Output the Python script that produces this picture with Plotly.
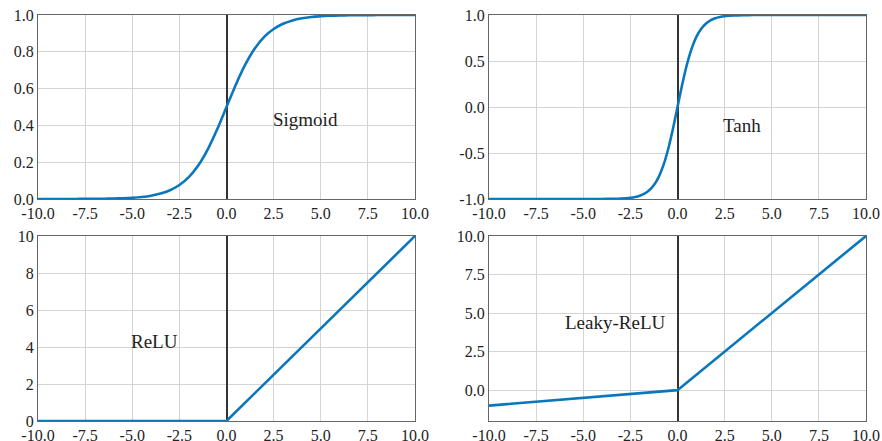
import plotly.graph_objects as go

# ---- data ----
sig_x = [-10, -9.5, -9, -8.5, -8, -7.5, -7, -6.5, -6, -5.5, -5, -4.5, -4, -3.5, -3, -2.5, -2, -1.5, -1, -0.5,
         0, 0.5, 1, 1.5, 2, 2.5, 3, 3.5, 4, 4.5, 5, 5.5, 6, 6.5, 7, 7.5, 8, 8.5, 9, 9.5, 10]
sig_y = [0.0000, 0.0001, 0.0001, 0.0002, 0.0003, 0.0006, 0.0009, 0.0015, 0.0025, 0.0041, 0.0067, 0.0110,
         0.0180, 0.0293, 0.0474, 0.0759, 0.1192, 0.1824, 0.2689, 0.3775, 0.5000, 0.6225, 0.7311, 0.8176,
         0.8808, 0.9241, 0.9526, 0.9707, 0.9820, 0.9890, 0.9933, 0.9959, 0.9975, 0.9985, 0.9991, 0.9994,
         0.9997, 0.9998, 0.9999, 0.9999, 1.0000]

tanh_x = [-10, -8, -6, -5, -4, -3.5, -3, -2.5, -2.25, -2, -1.75, -1.5, -1.25, -1, -0.75, -0.5, -0.25,
          0, 0.25, 0.5, 0.75, 1, 1.25, 1.5, 1.75, 2, 2.25, 2.5, 3, 3.5, 4, 5, 6, 8, 10]
tanh_y = [-1.0, -1.0, -1.0, -0.9999, -0.9993, -0.9982, -0.9951, -0.9866, -0.9780, -0.9640, -0.9414,
          -0.9051, -0.8483, -0.7616, -0.6351, -0.4621, -0.2449, 0.0, 0.2449, 0.4621, 0.6351, 0.7616,
          0.8483, 0.9051, 0.9414, 0.9640, 0.9780, 0.9866, 0.9951, 0.9982, 0.9993, 0.9999, 1.0, 1.0, 1.0]

relu_x = [-10, 0, 10]
relu_y = [0, 0, 10]

leaky_x = [-10, 0, 10]
leaky_y = [-1, 0, 10]

x_ticks = [-10, -7.5, -5, -2.5, 0, 2.5, 5, 7.5, 10]
x_tick_text = ["-10.0", "-7.5", "-5.0", "-2.5", "0.0", "2.5", "5.0", "7.5", "10.0"]
sig_ticks = [0, 0.2, 0.4, 0.6, 0.8, 1.0]
sig_tick_text = ["0.0", "0.2", "0.4", "0.6", "0.8", "1.0"]
tanh_ticks = [-1, -0.5, 0, 0.5, 1]
tanh_tick_text = ["-1.0", "-0.5", "0.0", "0.5", "1.0"]
relu_ticks = [0, 2, 4, 6, 8, 10]
relu_tick_text = ["0", "2", "4", "6", "8", "10"]
leaky_ticks = [0, 2.5, 5, 7.5, 10]
leaky_tick_text = ["0.0", "2.5", "5.0", "7.5", "10.0"]

labels = ["Sigmoid", "Tanh", "ReLU", "Leaky-ReLU"]
label_pos = [(4.2, 0.43), (3.4, -0.2), (-3.8, 4.3), (-3.3, 4.4)]

LINE = "#0a77bd"
FONT = "Liberation Serif"

fig = go.Figure()
series = [(sig_x, sig_y, "spline"), (tanh_x, tanh_y, "spline"),
          (relu_x, relu_y, "linear"), (leaky_x, leaky_y, "linear")]
for i, (xs, ys, shape) in enumerate(series):
    sfx = "" if i == 0 else str(i + 1)
    fig.add_trace(go.Scatter(x=xs, y=ys, mode="lines", xaxis="x" + sfx, yaxis="y" + sfx,
                             line=dict(color=LINE, width=2.6, shape=shape, smoothing=0.6),
                             showlegend=False, hoverinfo="skip"))
    fig.add_annotation(x=label_pos[i][0], y=label_pos[i][1], xref="x" + sfx, yref="y" + sfx,
                       text=labels[i], showarrow=False,
                       font=dict(family=FONT, size=19, color="#222"))

W, H = 882, 441
xdom = [(38 / W, 415 / W), (489 / W, 866 / W)]
ydom = [((H - 199) / H, (H - 15) / H), ((H - 421) / H, (H - 236) / H)]
yspecs = [([0, 1], sig_ticks, sig_tick_text), ([-1, 1], tanh_ticks, tanh_tick_text),
          ([0, 10], relu_ticks, relu_tick_text), ([-2, 10], leaky_ticks, leaky_tick_text)]

common = dict(showline=True, mirror=True, linecolor="#666", linewidth=1.2,
              showgrid=True, gridcolor="#d4d4d4", gridwidth=1, ticks="", automargin=False,
              tickfont=dict(family=FONT, size=16, color="#222"), fixedrange=True)

layout = {}
for i in range(4):
    sfx = "" if i == 0 else str(i + 1)
    col = i % 2
    row = i // 2
    layout["xaxis" + sfx] = dict(common, domain=list(xdom[col]), range=[-10, 10], anchor="y" + sfx,
                                 tickvals=x_ticks, ticktext=x_tick_text, ticklabelstandoff=0,
                                 zeroline=True, zerolinecolor="#333", zerolinewidth=1.5)
    r, tv, tt = yspecs[i]
    layout["yaxis" + sfx] = dict(common, domain=list(ydom[row]), range=r, anchor="x" + sfx,
                                 tickvals=tv, ticktext=tt, zeroline=False)

fig.update_layout(width=W, height=H, margin=dict(l=0, r=0, t=0, b=0),
                  paper_bgcolor="white", plot_bgcolor="white", **layout)

fig.write_html("out.html", config={"displayModeBar": False},
               post_script="document.body.style.margin='0';document.body.style.overflow='hidden';")
